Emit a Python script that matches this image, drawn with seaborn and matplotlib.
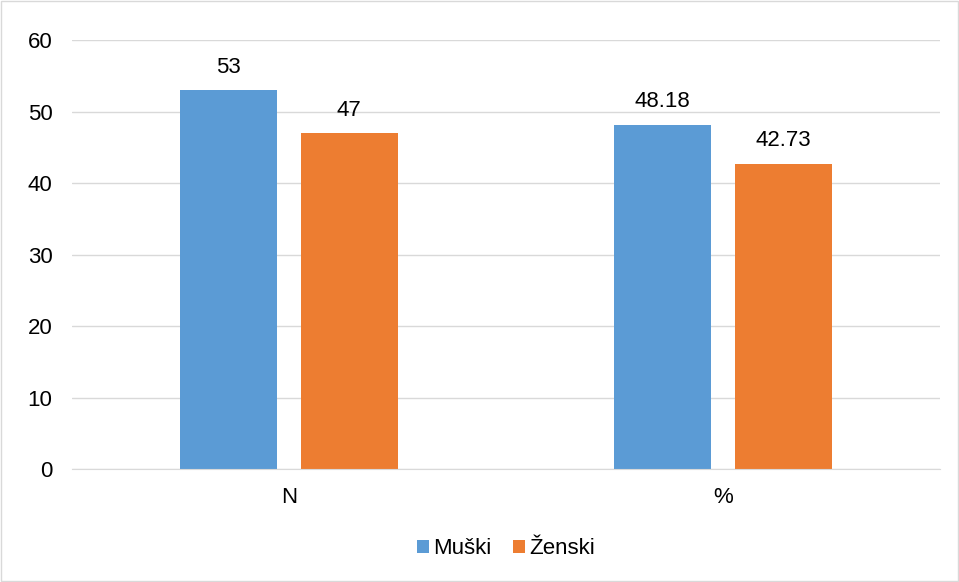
import pandas as pd
import matplotlib.pyplot as plt
import seaborn as sns
from matplotlib.patches import Rectangle

# chart data
categories = ["N", "%"]
series_names = ["Muški", "Ženski"]
muski = [53, 48.18]
zenski = [47, 42.73]
value_labels = {"Muški": ["53", "48.18"], "Ženski": ["47", "42.73"]}

df = pd.DataFrame({
    "cat": categories * 2,
    "spol": [series_names[0]] * 2 + [series_names[1]] * 2,
    "val": muski + zenski,
})

sns.set_style("white")
plt.rcParams["font.family"] = ["Liberation Sans", "DejaVu Sans"]
plt.rcParams["text.color"] = "black"

fig = plt.figure(figsize=(9.59, 5.82), dpi=100)
ax = fig.add_axes([0.075, 0.194, 0.905, 0.737])

sns.barplot(data=df, x="cat", y="val", hue="spol", order=categories,
            hue_order=series_names, palette=["#5B9BD5", "#ED7D31"],
            saturation=1, linewidth=0, width=0.557, gap=0.2, ax=ax, legend=True)

# value labels on top of bars
for cont, name in zip(ax.containers, series_names):
    ax.bar_label(cont, labels=value_labels[name], padding=9, fontsize=16, color="black")

ax.set_ylim(0, 60)
ax.set_xlim(-0.5, 1.5)
ax.set_yticks(range(0, 61, 10))
ax.yaxis.grid(True, color="#D9D9D9", linewidth=1)
ax.set_axisbelow(True)
for s in ["top", "right", "left"]:
    ax.spines[s].set_visible(False)
ax.spines["bottom"].set_color("#D9D9D9")
ax.tick_params(axis="both", length=0, labelsize=16, labelcolor="black")
ax.tick_params(axis="y", pad=14)
ax.tick_params(axis="x", pad=13)
ax.set_xlabel("")
ax.set_ylabel("")

ax.legend(loc="center", bbox_to_anchor=(0.5, -0.186), ncol=2,
          frameon=False, fontsize=16, handlelength=0.55, handleheight=0.55,
          handletextpad=0.15, columnspacing=1.0)

# outer chart border
fig.patches.append(Rectangle((0.001, 0.001), 0.998, 0.997, transform=fig.transFigure,
                             fill=False, edgecolor="#D9D9D9", linewidth=1))

fig.savefig("out.png", dpi=100)
